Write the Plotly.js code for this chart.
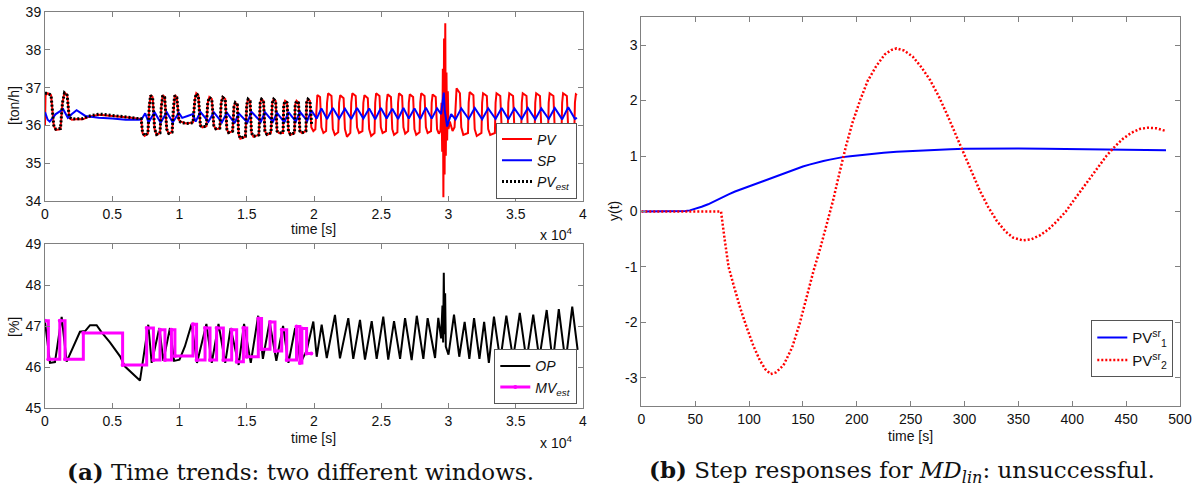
<!DOCTYPE html>
<html>
<head>
<meta charset="utf-8">
<script src="https://cdn.plot.ly/plotly-3.0.1.min.js"></script>
<style>
  html, body { margin: 0; padding: 0; background: #ffffff; }
  #chart { width: 1198px; height: 495px; }
</style>
</head>
<body>
<div id="chart"></div>
<script>
// ---------- (a) upper window: flow [ton/h], time in units of 1e4 s ----------
const tPV = [
  0, 0.004, 0.02, 0.045, 0.065, 0.08, 0.115, 0.13, 0.145, 0.165, 0.18, 0.2, 0.24, 0.28, 0.32, 0.36, 0.4, 0.44, 0.48, 0.52, 0.56, 0.6, 0.64, 0.68, 0.715,
  0.725, 0.74, 0.765, 0.775, 0.785, 0.8, 0.815, 0.83, 0.855, 0.865, 0.875, 0.89, 0.905, 0.92, 0.945, 0.955, 0.965, 0.98, 0.995, 1.01, 1.05, 1.1,
  1.115, 1.125, 1.14, 1.155, 1.17, 1.2,
  1.21, 1.222, 1.24, 1.255, 1.27, 1.3,
  1.31, 1.322, 1.34, 1.352, 1.365, 1.395,
  1.405, 1.415, 1.43, 1.44, 1.452, 1.49,
  1.5, 1.51, 1.525, 1.535, 1.55, 1.59,
  1.6, 1.61, 1.625, 1.635, 1.65, 1.68,
  1.69, 1.7, 1.715, 1.725, 1.74, 1.77,
  1.775, 1.785, 1.8, 1.81, 1.825, 1.855,
  1.86, 1.87, 1.885, 1.895, 1.91, 1.94,
  1.945, 1.955, 1.97, 1.98, 1.995, 2.01,
  2.018, 2.025, 2.045, 2.055, 2.07, 2.09,
  2.097, 2.105, 2.13, 2.14, 2.155, 2.18,
  2.187, 2.195, 2.22, 2.23, 2.245, 2.27,
  2.277, 2.285, 2.31, 2.32, 2.335, 2.36,
  2.367, 2.375, 2.4, 2.41, 2.425, 2.45,
  2.455, 2.462, 2.487, 2.497, 2.51, 2.535,
  2.54, 2.547, 2.572, 2.582, 2.595, 2.62,
  2.625, 2.632, 2.655, 2.665, 2.678, 2.7,
  2.705, 2.712, 2.737, 2.747, 2.76, 2.785,
  2.79, 2.797, 2.822, 2.832, 2.845, 2.87,
  2.875, 2.882, 2.905, 2.915, 2.928, 2.94,
  2.948, 2.953, 2.958, 2.962, 2.967, 2.971, 2.976, 2.98, 2.985, 2.99, 2.995, 3.0, 3.01, 3.03, 3.045,
  3.052, 3.06, 3.085, 3.095, 3.11, 3.145,
  3.15, 3.157, 3.185, 3.195, 3.21, 3.245,
  3.25, 3.257, 3.285, 3.295, 3.31, 3.345,
  3.35, 3.357, 3.385, 3.395, 3.41, 3.44,
  3.445, 3.452, 3.48, 3.49, 3.505, 3.54,
  3.545, 3.552, 3.58, 3.59, 3.605, 3.64,
  3.645, 3.652, 3.68, 3.69, 3.705, 3.74,
  3.745, 3.752, 3.78, 3.79, 3.805, 3.84,
  3.845, 3.852, 3.88, 3.89, 3.905, 3.935,
  3.94, 3.947, 3.955
];
const PV = [
  36.0, 36.8, 36.85, 36.8, 36.0, 35.88, 35.9, 36.6, 36.87, 36.8, 36.2, 36.15, 36.17, 36.16, 36.22, 36.26, 36.28, 36.27, 36.26, 36.24, 36.23, 36.22, 36.2, 36.18, 36.17,
  35.8, 35.72, 35.78, 36.5, 36.8, 36.75, 35.9, 35.75, 35.8, 36.5, 36.8, 36.75, 35.9, 35.78, 35.82, 36.5, 36.8, 36.75, 36.15, 36.1, 36.05, 36.08,
  36.7, 36.85, 36.8, 36.0, 35.95, 35.98,
  36.6, 36.75, 36.7, 36.0, 35.9, 35.92,
  36.6, 36.75, 36.7, 35.9, 35.8, 35.85,
  36.5, 36.6, 36.55, 35.75, 35.65, 35.7,
  36.55, 36.7, 36.65, 35.8, 35.7, 35.75,
  36.6, 36.7, 36.65, 35.85, 35.75, 35.8,
  36.6, 36.7, 36.65, 35.85, 35.8, 35.8,
  36.55, 36.65, 36.6, 35.85, 35.75, 35.8,
  36.55, 36.65, 36.6, 35.85, 35.8, 35.85,
  36.6, 36.7, 36.65, 35.95, 35.85, 35.9,
  36.5, 36.8, 36.75, 35.95, 35.8, 35.85,
  36.6, 36.85, 36.78, 35.9, 35.75, 35.82,
  36.6, 36.8, 36.72, 35.9, 35.7, 35.8,
  36.6, 36.85, 36.78, 35.95, 35.8, 35.85,
  36.6, 36.8, 36.72, 35.9, 35.72, 35.8,
  36.6, 36.85, 36.78, 35.95, 35.8, 35.85,
  36.6, 36.82, 36.75, 35.9, 35.75, 35.82,
  36.6, 36.85, 36.78, 35.95, 35.78, 35.85,
  36.6, 36.82, 36.75, 35.9, 35.75, 35.82,
  36.6, 36.85, 36.78, 35.95, 35.8, 35.85,
  36.6, 36.82, 36.75, 35.9, 35.78, 35.85,
  36.6, 35.3, 37.5, 34.1, 38.3, 34.7, 38.7, 35.2, 37.4, 35.6, 36.9, 35.9, 36.1, 35.85, 35.95,
  36.7, 36.98, 36.85, 35.95, 35.75, 35.8,
  36.6, 36.88, 36.8, 35.9, 35.72, 35.8,
  36.6, 36.85, 36.78, 35.9, 35.75, 35.8,
  36.6, 36.85, 36.78, 35.95, 35.75, 35.8,
  36.6, 36.85, 36.78, 35.9, 35.72, 35.8,
  36.6, 36.85, 36.78, 35.9, 35.75, 35.8,
  36.6, 36.85, 36.78, 35.95, 35.78, 35.82,
  36.6, 36.85, 36.78, 35.9, 35.75, 35.8,
  36.6, 36.85, 36.78, 35.9, 35.72, 35.8,
  36.6, 36.82, 36.8
];

const tSP = [
  0, 0.02, 0.035, 0.08, 0.135, 0.17, 0.2, 0.235, 0.3, 0.4, 0.5, 0.6, 0.7, 0.72,
  0.745, 0.77, 0.815, 0.86, 0.905, 0.95, 0.995, 1.02, 1.06, 1.1,
  1.12, 1.155, 1.215, 1.255, 1.315, 1.352, 1.41, 1.44, 1.505, 1.535, 1.605, 1.635,
  1.695, 1.725, 1.78, 1.81, 1.865, 1.895, 1.95, 1.98,
  2.02, 2.055, 2.097, 2.14, 2.187, 2.23, 2.277, 2.32, 2.367, 2.41, 2.455, 2.497,
  2.54, 2.582, 2.625, 2.665, 2.705, 2.747, 2.79, 2.832, 2.875, 2.915,
  2.945, 2.958, 2.965, 2.972, 2.985, 2.99, 3.0, 3.02,
  3.052, 3.095, 3.15, 3.195, 3.25, 3.295, 3.35, 3.395, 3.445, 3.49,
  3.545, 3.59, 3.645, 3.69, 3.745, 3.79, 3.845, 3.89, 3.94, 3.955
];
const SP = [
  36.35, 36.15, 36.1, 36.3, 36.43, 36.2, 36.3, 36.4, 36.25, 36.2, 36.18, 36.15, 36.15, 36.17,
  36.32, 36.08, 36.35, 36.07, 36.35, 36.08, 36.33, 36.2, 36.25, 36.3,
  36.1, 36.36, 36.1, 36.35, 36.08, 36.34, 36.06, 36.32, 36.08, 36.36, 36.1, 36.35,
  36.1, 36.33, 36.08, 36.35, 36.1, 36.36, 36.12, 36.4,
  36.18, 36.45, 36.17, 36.46, 36.18, 36.44, 36.17, 36.46, 36.18, 36.45, 36.16, 36.46,
  36.18, 36.44, 36.17, 36.46, 36.18, 36.45, 36.17, 36.47, 36.18, 36.45,
  36.3, 36.6, 36.87, 36.4, 36.05, 35.97, 36.1, 36.3,
  36.16, 36.45, 36.17, 36.46, 36.16, 36.45, 36.17, 36.46, 36.16, 36.45,
  36.17, 36.46, 36.16, 36.45, 36.17, 36.46, 36.16, 36.48, 36.17, 36.2
];

const tPVest = [
  0, 0.02, 0.045, 0.065, 0.08, 0.115, 0.13, 0.145, 0.165, 0.18, 0.2, 0.24, 0.28, 0.32, 0.36, 0.4, 0.44, 0.48, 0.52, 0.56, 0.6, 0.64, 0.68, 0.715,
  0.725, 0.74, 0.765, 0.775, 0.785, 0.8, 0.815, 0.83, 0.855, 0.865, 0.875, 0.89, 0.905, 0.92, 0.945, 0.955, 0.965, 0.98, 0.995, 1.01, 1.05, 1.1,
  1.115, 1.125, 1.14, 1.155, 1.17, 1.2,
  1.21, 1.222, 1.24, 1.255, 1.27, 1.3,
  1.31, 1.322, 1.34, 1.352, 1.365, 1.395,
  1.405, 1.415, 1.43, 1.44, 1.452, 1.49,
  1.5, 1.51, 1.525, 1.535, 1.55, 1.59,
  1.6, 1.61, 1.625, 1.635, 1.65, 1.68,
  1.69, 1.7, 1.715, 1.725, 1.74, 1.77,
  1.775, 1.785, 1.8, 1.81, 1.825, 1.855,
  1.86, 1.87, 1.885, 1.895, 1.91, 1.94,
  1.945, 1.955, 1.97, 1.983
];
const PVest = [
  36.85, 36.85, 36.8, 36.0, 35.9, 35.92, 36.6, 36.86, 36.8, 36.22, 36.17, 36.18, 36.18, 36.24, 36.28, 36.3, 36.29, 36.27, 36.25, 36.24, 36.22, 36.21, 36.19, 36.18,
  35.82, 35.73, 35.79, 36.5, 36.79, 36.74, 35.9, 35.76, 35.8, 36.5, 36.79, 36.74, 35.9, 35.79, 35.82, 36.5, 36.79, 36.74, 36.14, 36.08, 36.05, 36.07,
  36.7, 36.84, 36.79, 36.0, 35.96, 35.98,
  36.6, 36.74, 36.69, 36.0, 35.91, 35.93,
  36.6, 36.74, 36.69, 35.9, 35.81, 35.85,
  36.5, 36.6, 36.55, 35.76, 35.66, 35.71,
  36.55, 36.69, 36.64, 35.8, 35.71, 35.75,
  36.6, 36.69, 36.64, 35.85, 35.76, 35.8,
  36.6, 36.69, 36.64, 35.85, 35.8, 35.81,
  36.55, 36.64, 36.6, 35.85, 35.76, 35.8,
  36.55, 36.64, 36.6, 35.85, 35.8, 35.85,
  36.6, 36.69, 36.64, 36.0
];

// ---------- (a) lower window: controller output [%] ----------
const tOP = [
  0, 0.037, 0.074, 0.124, 0.161, 0.211, 0.26, 0.3, 0.335, 0.384, 0.42, 0.483, 0.558, 0.595, 0.644, 0.706, 0.768,
  0.793, 0.85, 0.88, 0.929, 0.96, 1.0, 1.04, 1.09,
  1.13, 1.2, 1.24, 1.29, 1.34, 1.38, 1.44, 1.48, 1.53, 1.585, 1.62, 1.67, 1.72, 1.77, 1.81, 1.86, 1.9,
  1.945, 1.995, 2.02, 2.057, 2.095, 2.156, 2.193, 2.255, 2.292, 2.342, 2.379, 2.429, 2.466, 2.515,
  2.552, 2.595, 2.64, 2.677, 2.726, 2.764, 2.813, 2.845, 2.9, 2.924,
  2.945, 2.955, 2.96, 2.965, 2.97, 2.975, 2.98, 3.0,
  3.041, 3.08, 3.12, 3.155, 3.19, 3.23, 3.265, 3.3, 3.338, 3.385, 3.43, 3.48, 3.53, 3.58, 3.63,
  3.675, 3.73, 3.775, 3.82, 3.87, 3.92, 3.96
];
const OP = [
  47.1, 46.1, 46.12, 47.22, 46.13, 46.5, 46.86, 46.88, 47.02, 47.02, 46.85, 46.6, 46.26, 46.01, 45.85, 45.67, 47.03,
  46.1, 46.95, 46.15, 46.95, 46.15, 46.18, 46.5, 47.05,
  46.1, 47.05, 46.1, 47.05, 46.1, 46.95, 46.05, 47.05, 46.1, 47.25, 46.2, 47.1, 46.15, 47.0, 46.1, 46.95, 46.1,
  46.4, 47.11, 46.25, 47.03, 46.22, 47.27, 46.21, 47.19, 46.2, 47.15, 46.18, 47.12, 46.2, 47.23,
  46.18, 47.12, 46.2, 47.19, 46.17, 47.25, 46.2, 47.19, 46.22, 47.2,
  46.7, 47.5, 46.6, 48.3, 46.8, 47.8, 46.5, 46.3,
  47.28, 46.25, 47.1, 46.2, 47.19, 46.2, 47.1, 46.1, 47.23, 46.15, 47.25, 46.2, 47.32, 46.15, 47.28,
  46.2, 47.39, 46.1, 47.41, 46.1, 47.47, 46.42
];

// estimated manipulated variable (piecewise constant, held until next sample)
const tMV = [
  0, 0.025, 0.11, 0.149, 0.285, 0.577, 0.756, 0.806, 0.855, 0.892, 0.94, 0.966,
  1.1, 1.127, 1.19, 1.227, 1.276, 1.326, 1.388, 1.425, 1.475, 1.5, 1.586, 1.61,
  1.673, 1.71, 1.76, 1.797, 1.87, 1.895, 1.91, 1.945, 1.98
];
const MV = [
  47.13, 46.19, 47.13, 46.19, 46.83, 46.05, 46.95, 46.17, 46.91, 46.17, 46.91, 46.27,
  47.04, 46.17, 46.95, 46.17, 46.95, 46.17, 46.91, 46.13, 46.95, 46.25, 47.18, 46.43,
  47.1, 46.39, 46.91, 46.17, 46.99, 46.1, 46.94, 46.33, 46.33
];

// ---------- (b) step responses ----------
const tSR1 = [0, 37, 41, 45, 50, 56, 62, 68, 75, 81, 87, 94, 100, 106, 112, 119, 125, 131, 137, 144, 150, 156, 162, 169, 175, 181, 187, 194, 200, 212, 225, 237, 250, 262, 275, 287, 300, 325, 350, 375, 400, 425, 450, 487];
const PV1sr = [0, 0, 0.008, 0.02, 0.045, 0.085, 0.13, 0.19, 0.25, 0.31, 0.36, 0.41, 0.46, 0.505, 0.55, 0.6, 0.64, 0.685, 0.73, 0.77, 0.81, 0.845, 0.88, 0.91, 0.935, 0.96, 0.98, 0.995, 1.01, 1.04, 1.06, 1.075, 1.09, 1.105, 1.115, 1.122, 1.13, 1.135, 1.135, 1.13, 1.125, 1.12, 1.115, 1.105];

const tSR2 = [0, 74, 77, 81, 86, 92, 98, 104, 110, 115, 120, 125, 132, 140, 147, 154, 160, 166, 172, 178, 184, 190, 196, 203, 210, 218, 226, 232, 237, 244, 252, 260, 268, 276, 284, 292, 299, 306, 314, 322, 330, 338, 345, 354, 362, 370, 378, 386, 394, 401, 409, 417, 425, 432, 440, 447, 455, 463, 470, 478, 487];
const PV2sr = [0, 0, -0.45, -1.0, -1.35, -1.75, -2.1, -2.42, -2.68, -2.84, -2.93, -2.9, -2.77, -2.45, -2.02, -1.5, -1.06, -0.67, -0.25, 0.2, 0.7, 1.18, 1.6, 2.0, 2.35, 2.62, 2.83, 2.91, 2.94, 2.9, 2.79, 2.6, 2.37, 2.08, 1.74, 1.38, 1.05, 0.72, 0.385, 0.08, -0.17, -0.36, -0.47, -0.52, -0.5, -0.43, -0.32, -0.17, 0.0, 0.19, 0.4, 0.61, 0.82, 1.01, 1.18, 1.31, 1.42, 1.49, 1.51, 1.5, 1.45];

const yTicksB = [-3, -2, -1, 0, 1, 2, 3];
const yTickTextB = ['-3', '-2', '-1', '0', '1', '2', '3'];

// ---------- page geometry (pixels -> paper fractions) ----------
const W = 1198, H = 495;
const fx = p => p / W;
const fy = p => 1 - p / H;

const SANS = 'Liberation Sans, Arial, sans-serif';
const SERIF = 'DejaVu Serif, serif';
const AXC = '#808080';

function axisStyle(extra) {
  return Object.assign({
    showline: true, linecolor: AXC, linewidth: 1, mirror: 'ticks',
    ticks: 'inside', ticklen: 5, tickcolor: AXC, tickwidth: 1,
    showgrid: false, zeroline: false, fixedrange: true,
    tickfont: { family: SANS, size: 14, color: '#111' }
  }, extra);
}

const data = [
  { x: tPV, y: PV, type: 'scatter', mode: 'lines', name: '<i>PV</i>',
    line: { color: '#ff0000', width: 2 }, xaxis: 'x', yaxis: 'y', legend: 'legend' },
  { x: tSP, y: SP, type: 'scatter', mode: 'lines', name: '<i>SP</i>',
    line: { color: '#0000ff', width: 2 }, xaxis: 'x', yaxis: 'y', legend: 'legend' },
  { x: tPVest, y: PVest, type: 'scatter', mode: 'lines', name: '<i>PV<sub>est</sub></i>',
    line: { color: '#000000', width: 3, dash: '2px,2px' }, xaxis: 'x', yaxis: 'y', legend: 'legend' },

  { x: tOP, y: OP, type: 'scatter', mode: 'lines', name: '<i>OP</i>',
    line: { color: '#000000', width: 2 }, xaxis: 'x2', yaxis: 'y2', legend: 'legend2' },
  { x: tMV, y: MV, type: 'scatter', mode: 'lines+markers', name: '<i>MV<sub>est</sub></i>',
    line: { color: '#ff00ff', width: 3, shape: 'hv' }, marker: { color: '#ff00ff', size: 4 },
    xaxis: 'x2', yaxis: 'y2', legend: 'legend2' },

  { x: tSR1, y: PV1sr, type: 'scatter', mode: 'lines', name: 'PV<sup>sr</sup><sub>1</sub>',
    line: { color: '#0000ff', width: 2 }, xaxis: 'x3', yaxis: 'y3', legend: 'legend3' },
  { x: tSR2, y: PV2sr, type: 'scatter', mode: 'lines', name: 'PV<sup>sr</sup><sub>2</sub>',
    line: { color: '#ff0000', width: 2.5, dash: '2px,2px' }, xaxis: 'x3', yaxis: 'y3', legend: 'legend3' }
];

function legendBox(xr, yb, size) {
  return {
    x: fx(xr), y: fy(yb), xanchor: 'right', yanchor: 'bottom',
    bgcolor: '#ffffff', bordercolor: '#555555', borderwidth: 1,
    font: { family: SANS, size: size || 14, color: '#111' },
    itemwidth: 30, tracegroupgap: 0, traceorder: 'normal'
  };
}

const annot = (text, xp, yp, opts) => Object.assign({
  text: text, x: fx(xp), y: fy(yp), xref: 'paper', yref: 'paper',
  showarrow: false, xanchor: 'center', yanchor: 'middle',
  font: { family: SANS, size: 14, color: '#111' }
}, opts || {});

const layout = {
  width: W, height: H,
  margin: { l: 0, r: 0, t: 0, b: 0 },
  paper_bgcolor: '#ffffff', plot_bgcolor: '#ffffff',
  showlegend: true,

  xaxis: axisStyle({ domain: [fx(45), fx(583)], range: [0, 4], dtick: 0.5, anchor: 'y' }),
  yaxis: axisStyle({ domain: [fy(201), fy(12)], range: [34, 39], dtick: 1, anchor: 'x' }),
  xaxis2: axisStyle({ domain: [fx(45), fx(583)], range: [0, 4], dtick: 0.5, anchor: 'y2' }),
  yaxis2: axisStyle({ domain: [fy(408), fy(244)], range: [45, 49], dtick: 1, anchor: 'x2' }),
  xaxis3: axisStyle({ domain: [fx(641.3), fx(1180)], range: [0, 500], dtick: 50, anchor: 'y3' }),
  yaxis3: axisStyle({ domain: [fy(405.7), fy(17.3)], range: [-3.5, 3.5],
    tickmode: 'array', tickvals: yTicksB, ticktext: yTickTextB, anchor: 'x3' }),

  legend: legendBox(577, 198.5),
  legend2: legendBox(577.3, 404.3),
  legend3: legendBox(1173.3, 377.3, 15),

  annotations: [
    annot('[ton/h]', 14, 106, { textangle: -90 }),
    annot('time [s]', 313, 229),
    annot('x 10<sup>4</sup>', 556, 234),
    annot('[%]', 14, 327, { textangle: -90 }),
    annot('time [s]', 313, 438),
    annot('x 10<sup>4</sup>', 556, 442),
    annot('y(t)', 614, 211, { textangle: -90 }),
    annot('time [s]', 910, 436),
    annot('<b>(a)</b> Time trends: two different windows.', 300, 471,
      { font: { family: SERIF, size: 23, color: '#111' } }),
    annot('<b>(b)</b> Step responses for <i>MD</i><sub><i>lin</i></sub>: unsuccessful.', 902, 471,
      { font: { family: SERIF, size: 23, color: '#111' } })
  ]
};

Plotly.newPlot('chart', data, layout, { staticPlot: true, displayModeBar: false });
</script>
</body>
</html>
